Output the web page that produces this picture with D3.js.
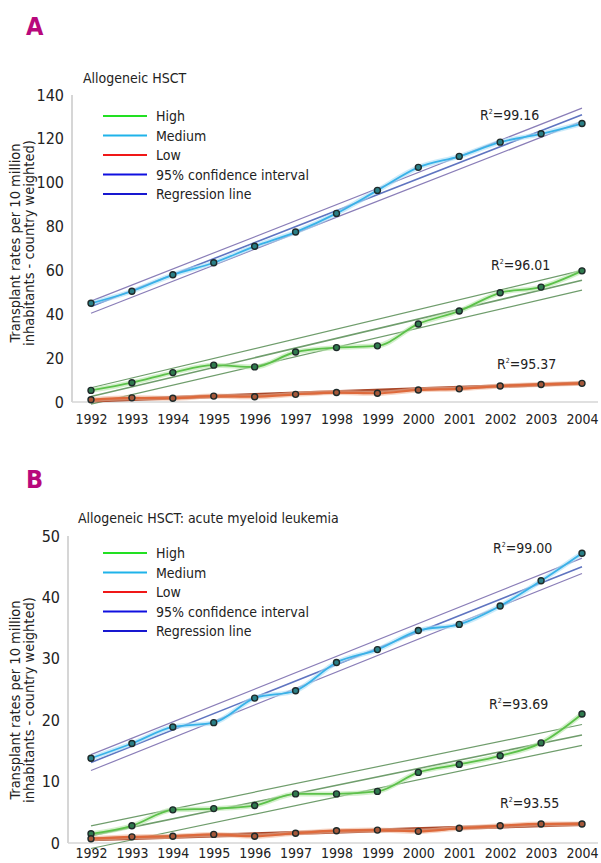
<!DOCTYPE html>
<html>
<head>
  <meta charset="utf-8">
  <script src="https://cdn.jsdelivr.net/npm/d3@7"></script>
  <style>
    body { margin: 0; background: #fff; }
    text { font-family: "Liberation Sans Narrow", "Arial Narrow", "DejaVu Sans Condensed", sans-serif; fill: #222; }
  </style>
</head>
<body>
  <svg width="601" height="863" id="mainsvg"></svg>
  <script>
    // data
    const years = [1992, 1993, 1994, 1995, 1996, 1997, 1998, 1999, 2000, 2001, 2002, 2003, 2004];
    const aHigh = [5.3, 8.8, 13.4, 16.8, 16.0, 22.8, 24.8, 25.6, 35.6, 41.5, 49.8, 52.4, 59.8];
    const aMedium = [45, 50.5, 58, 63.5, 71, 77.5, 86, 96.5, 107, 112, 118.5, 122.3, 127];
    const aLow = [1.0, 1.9, 1.7, 2.7, 2.4, 3.5, 4.3, 4.0, 5.5, 6.0, 7.3, 8.0, 8.5];
    const bHigh = [1.5, 2.8, 5.4, 5.6, 6.1, 8.0, 8.0, 8.4, 11.5, 12.8, 14.2, 16.3, 21.0];
    const bMedium = [13.8, 16.2, 18.9, 19.6, 23.6, 24.8, 29.4, 31.5, 34.6, 35.6, 38.6, 42.7, 47.2];
    const bLow = [0.7, 1.0, 1.1, 1.4, 1.1, 1.6, 2.0, 2.1, 1.9, 2.4, 2.8, 3.1, 3.1];
    // fitted lines: value at 1992 and 2004 -> [upper CI, regression, lower CI]
    const aHighFit = [[6.5, 60], [2.5, 55.5], [-1, 51]];
    const aMediumFit = [[46, 134], [43.5, 131], [40.5, 128]];
    const aLowFit = [[1.1, 9.0], [0.6, 8.6], [0.1, 8.1]];
    const bHighFit = [[2.8, 19.3], [1.2, 17.6], [-0.9, 15.9]];
    const bMediumFit = [[14.4, 46.4], [13.1, 45.0], [11.8, 43.9]];
    const bLowFit = [[0.8, 3.3], [0.6, 3.1], [0.4, 2.9]];
    const legendLabels = ['High', 'Medium', 'Low', '95% confidence interval', 'Regression line'];
    const legendColors = ['#22e022', '#1fb3ea', '#f01818', '#1010e0', '#1818d0'];
    const aTicks = [0, 20, 40, 60, 80, 100, 120, 140];
    const bTicks = [0, 10, 20, 30, 40, 50];
    const aR2 = ['99.16', '96.01', '95.37'];
    const bR2 = ['99.00', '93.69', '93.55'];

    const svg = d3.select('svg');

    const styles = {
      high: {line: '#5cc14a', glow: '#b5e6a8', fit: '#6f9d6c', fitW: 1.2, dot: '#2f7a4e'},
      medium: {line: '#39b2e8', glow: '#a9def6', fit: '#8a7eb8', fitW: 1.2, dot: '#2a7f86'},
      low: {line: '#de6a3c', glow: '#f0b59a', fit: '#a9482a', fitW: 1.6, dot: '#a5583a'}
    };

    const drawPanel = function(p) {
      const g = svg.append('g');
      const x = d3.scaleLinear().domain([1992, 2004]).range([91, 582]);
      const y = d3.scaleLinear().domain(p.domain).range(p.yRange);
      const bottom = p.yRange[0];

      g.append('text').text(p.letter).attr('x', 26).attr('y', p.letterY)
        .attr('font-size', 25).attr('font-weight', 'bold').style('fill', '#b8087c');
      g.append('text').text(p.title).attr('x', p.titleX).attr('y', p.titleY).attr('font-size', 14);

      // axes
      g.append('line').attr('x1', p.axisX).attr('x2', p.axisX).attr('y1', p.yRange[1]).attr('y2', bottom)
        .attr('stroke', '#d6d6d6').attr('stroke-width', 2);
      g.append('line').attr('x1', p.axisX).attr('x2', 598).attr('y1', bottom).attr('y2', bottom)
        .attr('stroke', '#d6d6d6').attr('stroke-width', 1.5);
      const yAxis = g.append('g').attr('transform', `translate(${p.axisX},0)`)
        .call(d3.axisLeft(y).tickValues(p.ticks).tickSize(0).tickPadding(8));
      yAxis.select('.domain').remove();
      yAxis.selectAll('text').attr('font-size', 16).style('fill', '#222');
      const xAxis = g.append('g').attr('transform', `translate(0,${bottom})`)
        .call(d3.axisBottom(x).tickValues(years).tickFormat(d => d).tickSize(0).tickPadding(p.xPad));
      xAxis.select('.domain').remove();
      xAxis.selectAll('text').attr('font-size', 14).style('fill', '#222');

      // y title
      const yt = g.append('text').attr('transform', `translate(20,${p.yTitleY}) rotate(-90)`)
        .attr('text-anchor', 'middle').attr('font-size', 14.5);
      yt.append('tspan').attr('x', 0).attr('dy', 0).text('Transplant rates per 10 million');
      yt.append('tspan').attr('x', 0).attr('dy', 14).text('inhabitants - country weighted)');

      // legend
      legendLabels.forEach((l, i) => {
        const ly = p.legendY + i * 19.5;
        g.append('line').attr('x1', 103).attr('x2', 147).attr('y1', ly).attr('y2', ly)
          .attr('stroke', legendColors[i]).attr('stroke-width', 2);
        g.append('text').text(l).attr('x', 156).attr('y', ly + 5).attr('font-size', 14);
      });

      const line = d3.line().x((d, i) => x(years[i])).y(d => y(d)).curve(d3.curveMonotoneX);

      p.series.forEach(s => {
        const st = styles[s.kind];
        // fit lines
        s.fit.forEach((f, i) => {
          g.append('line').attr('x1', x(1992)).attr('x2', x(2004)).attr('y1', y(f[0])).attr('y2', y(f[1]))
            .attr('stroke', i === 1 && s.kind === 'medium' ? '#5f74c0' : st.fit)
            .attr('stroke-width', i === 1 ? st.fitW + 0.4 : st.fitW);
        });
        // data glow + line
        g.append('path').datum(s.values).attr('d', line).attr('fill', 'none')
          .attr('stroke', st.glow).attr('stroke-width', s.kind === 'low' ? 5 : 5).attr('opacity', 0.6);
        g.append('path').datum(s.values).attr('d', line).attr('fill', 'none')
          .attr('stroke', st.line).attr('stroke-width', s.kind === 'low' ? 2.2 : 1.8);
        g.selectAll(null).data(s.values).join('circle')
          .attr('cx', (d, i) => x(years[i])).attr('cy', d => y(d)).attr('r', 3)
          .attr('fill', st.dot).attr('stroke', '#1e2a2a').attr('stroke-width', 1.4);
      });

      // R² labels
      p.r2.forEach((r, i) => {
        const t = g.append('text').attr('x', p.r2Pos[i][0]).attr('y', p.r2Pos[i][1]).attr('font-size', 14);
        t.append('tspan').text('R');
        t.append('tspan').text('2').attr('font-size', 7).attr('dy', -6);
        t.append('tspan').text('=' + r).attr('dy', 6);
      });
    };

    drawPanel({
      letter: 'A', letterY: 35, title: 'Allogeneic HSCT', titleX: 83, titleY: 83,
      domain: [0, 140], yRange: [402, 95], ticks: aTicks, axisX: 72, xPad: 12, yTitleY: 243,
      legendY: 116, r2: aR2, r2Pos: [[480, 120], [491, 270], [497, 369]],
      series: [
        {kind: 'high', values: aHigh, fit: aHighFit},
        {kind: 'medium', values: aMedium, fit: aMediumFit},
        {kind: 'low', values: aLow, fit: aLowFit}
      ]
    });

    drawPanel({
      letter: 'B', letterY: 488, title: 'Allogeneic HSCT: acute myeloid leukemia', titleX: 78, titleY: 523,
      domain: [0, 50], yRange: [843, 536], ticks: bTicks, axisX: 68, xPad: 5, yTitleY: 700,
      legendY: 553, r2: bR2, r2Pos: [[493, 553], [489, 709], [500, 808]],
      series: [
        {kind: 'high', values: bHigh, fit: bHighFit},
        {kind: 'medium', values: bMedium, fit: bMediumFit},
        {kind: 'low', values: bLow, fit: bLowFit}
      ]
    });
  </script>
</body>
</html>
